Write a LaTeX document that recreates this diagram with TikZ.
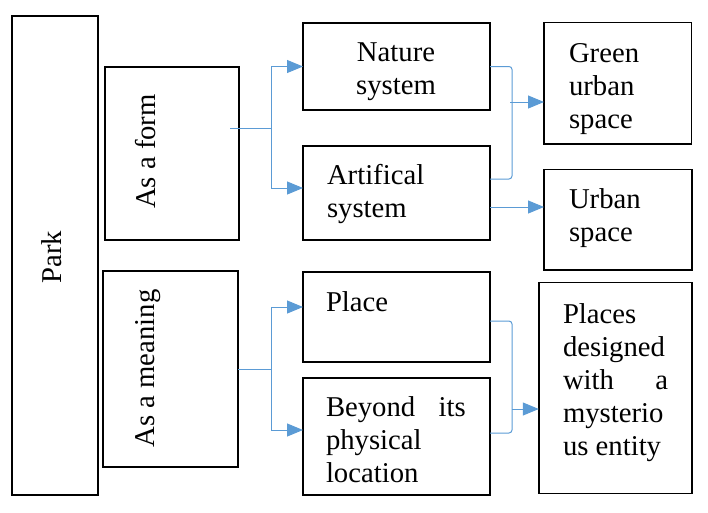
\documentclass[tikz,border=0pt]{standalone}
\usepackage{fontspec}
\setmainfont{Liberation Serif}
\usetikzlibrary{arrows.meta}
\definecolor{lnblue}{HTML}{5B9BD5}
\begin{document}
\begin{tikzpicture}[x=1pt,y=-1pt,
  box/.style={draw=black, line width=1.8pt, rectangle, inner sep=0pt, outer sep=0pt},
  txt/.style={inner sep=0pt, outer sep=0pt, align=left, font=\fontsize{28.7}{33}\selectfont},
  conn/.style={draw=lnblue, line width=1pt},
  arr/.style={conn, -{Triangle[length=16pt,width=13pt]}}
]
\useasboundingbox (0,0) rectangle (708,512);
% boxes
\node[box, minimum width=86pt,   minimum height=479pt] (park)    at (55,255.5) {};
\node[box, minimum width=134pt,  minimum height=173pt] (form)    at (172,153.5) {};
\node[box, minimum width=135pt,  minimum height=196pt] (meaning) at (170.5,369) {};
\node[box, minimum width=187pt,  minimum height=87pt]  (nature)  at (396.5,66.5) {};
\node[box, minimum width=187pt,  minimum height=94pt]  (art)     at (396.5,193) {};
\node[box, minimum width=147.5pt,minimum height=121.5pt] (green) at (617.75,83.25) {};
\node[box, minimum width=148pt,  minimum height=100.5pt] (urban) at (618,219.75) {};
\node[box, minimum width=187pt,  minimum height=90pt]  (place)   at (396.5,317) {};
\node[box, minimum width=187pt,  minimum height=117pt] (beyond)  at (396.5,436.5) {};
\node[box, minimum width=153pt,  minimum height=211pt] (places)  at (615.3,388) {};
% texts (base anchor = baseline of the last line)
\node[txt, rotate=90, anchor=base] (parkt) at (61.7,257) {Park};
\node[txt, rotate=90, anchor=base] (formt) at (155,151.5) {As a form};
\node[txt, rotate=90, anchor=base] (meaningt) at (154.3,368.5) {As a meaning};
\node[txt, align=center, anchor=base] (naturet) at (396,94.2) {Nature\\system};
\node[txt, anchor=base west] (artt) at (327,217.5) {Artifical\\system};
\node[txt, anchor=base west] (placet) at (326,311.7) {Place};
\node[txt, anchor=base west] (beyondt) at (326,482.7) {\hbox to 139.7pt{Beyond\hfill its}\\physical\\location};
\node[txt, anchor=base west] (greent) at (569,128.5) {Green\\urban\\space};
\node[txt, anchor=base west] (urbant) at (569,241.8) {Urban\\space};
\node[txt, anchor=base west] (placest) at (563,455) {Places\\designed\\\hbox to 105pt{with\hfill a}\\mysterio\\us entity};
% connectors: form branch
\coordinate (jf) at (271,128);
\draw[conn] ([xshift=-9pt,yshift=25.5pt]form.east) -- (jf);
\draw[arr] (jf) |- (nature.west);
\draw[arr] (jf) |- ([yshift=5pt]art.west);
% meaning branch
\coordinate (jm) at (271,369);
\draw[conn] (meaning.east) -- (jm);
\draw[arr] (jm) |- ([yshift=10pt]place.west);
\draw[arr] (jm) |- ([yshift=6.5pt]beyond.west);
% right top bracket
\draw[conn, rounded corners=3pt] (nature.east) -- ++(22,0) |- ([yshift=14pt]art.east);
\coordinate (jg) at (510,102);
\draw[arr] (jg) -- (jg -| green.west);
\coordinate (au) at ([yshift=-14pt]art.east);
\draw[arr] (au) -- (au -| urban.west);
% right bottom bracket
\draw[conn, rounded corners=3pt] ([yshift=-4pt]place.east) -- ++(22,0) |- ([yshift=3.5pt]beyond.east);
\coordinate (jp) at (512,409);
\draw[arr] (jp) -- (jp -| places.west);
\end{tikzpicture}
\end{document}
